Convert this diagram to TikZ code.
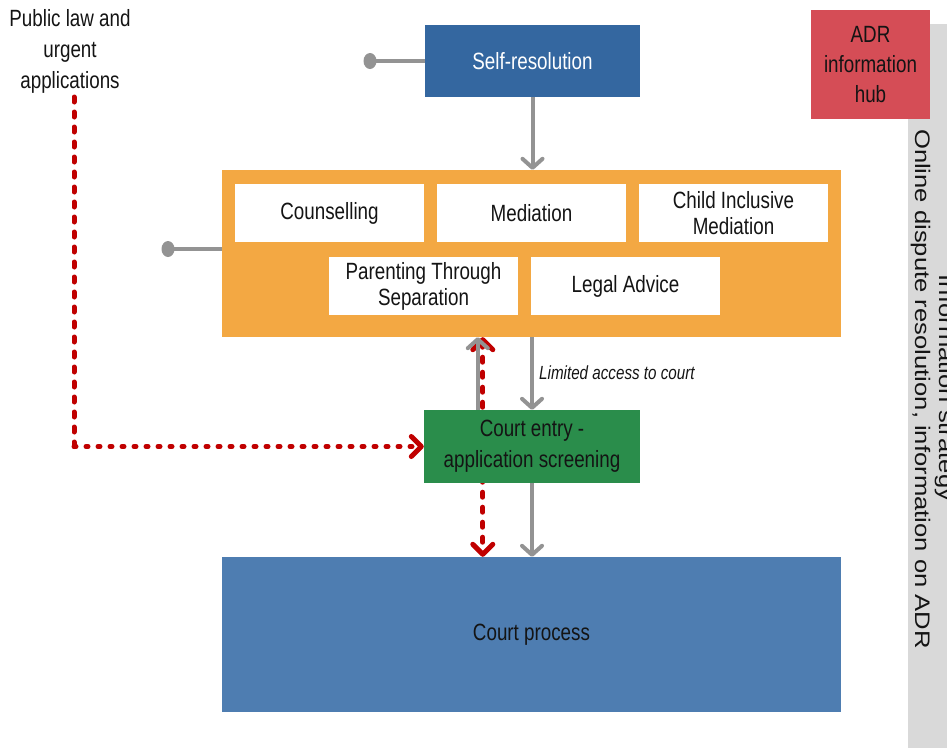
\documentclass[tikz,border=0pt]{standalone}
\usepackage{fontspec}
\setmainfont{Liberation Sans}[FakeStretch=0.8]
\newfontfamily\rotfont{Liberation Sans}[FakeStretch=1.22]
\usetikzlibrary{arrows.meta}
\pgfdeclarelayer{bg}
\pgfsetlayers{bg,main}
\definecolor{selfblue}{HTML}{3467A0}
\definecolor{courtblue}{HTML}{4E7DB1}
\definecolor{orangebox}{HTML}{F3A843}
\definecolor{greenbox}{HTML}{2A8D4B}
\definecolor{redbox}{HTML}{D54D56}
\definecolor{panelgray}{HTML}{D9D9D9}
\definecolor{arrowgray}{HTML}{939393}
\definecolor{dashred}{HTML}{C00000}
\definecolor{txt}{HTML}{141414}
\tikzset{
  rtip/.tip={Straight Barb[length=10pt,width=20pt,round]},
  gtip/.tip={Straight Barb[length=9pt,width=20pt,round]},
}
\begin{document}
\begin{tikzpicture}[x=1pt,y=-1pt,
  box/.style={inner sep=0pt, align=center, text=txt,
    font=\fontsize{23.5}{26}\selectfont},
  whitebox/.style={box, fill=white, minimum width=189pt, minimum height=58pt},
  garrow/.style={draw=arrowgray, line width=4pt, -gtip},
  gline/.style={draw=arrowgray, line width=4pt},
  rdashv/.style={draw=dashred, line width=5pt, line cap=round,
    dash pattern=on 5pt off 10pt},
  rdashh/.style={draw=dashred, line width=5pt, line cap=round,
    dash pattern=on 2pt off 10pt},
]
\useasboundingbox (0,0) rectangle (947,747);
\clip (0,0) rectangle (947,747);

% right side panel
\node[fill=panelgray, minimum width=60pt, minimum height=740pt, inner sep=0pt,
  anchor=north west] (panel) at (908,24) {};
\node[rotate=-90, anchor=base, text=txt, inner sep=0pt,
  font=\rotfont\fontsize{21}{23}\selectfont] (panelA) at (939,388) {Information strategy};
\node[rotate=-90, anchor=base, text=txt, inner sep=0pt,
  font=\rotfont\fontsize{21}{23}\selectfont] (panelB) at (915,389)
  {Online dispute resolution, information on ADR};

% ADR hub
\node[box, fill=redbox, minimum width=119pt, minimum height=109pt,
  font=\fontsize{23.5}{30}\selectfont] (adr) at (870.5,64.5) {ADR\\information\\hub};

% main boxes
\node[box, fill=selfblue, text=white, minimum width=215pt, minimum height=72pt]
  (self) at (532.5,61) {Self-resolution};
\node[fill=orangebox, minimum width=619pt, minimum height=167pt, inner sep=0pt]
  (orange) at (531.5,253.5) {};
\node[whitebox] (couns) at (329.5,213) {Counselling};
\node[whitebox] (med) at (531.5,213) {Mediation};
\node[whitebox] (child) at (733.5,213) {Child Inclusive\\Mediation};
\node[whitebox] (pts) at (423.5,286) {Parenting Through\\Separation};
\node[whitebox] (legal) at (625.5,286) {Legal Advice};
\node[box, fill=greenbox, minimum width=216pt, minimum height=73pt,
  font=\fontsize{23.5}{31}\selectfont] (green) at (532,446.5)
  {Court entry -\\application screening};
\node[box, fill=courtblue, minimum width=619pt, minimum height=155pt]
  (court) at (531.5,634.5) {Court process};

% public law text
\node[box, font=\fontsize{23.5}{31}\selectfont] (plt) at (70,51.5)
  {Public law and\\urgent\\applications};

% dots with lines
\coordinate (d1) at (370,61);
\coordinate (d2) at (168,249);
\draw[gline] (d1) -- (d1 -| self.west);
\fill[arrowgray] (d1) ellipse (6.5 and 8);
\draw[gline] (d2) -- (d2 -| orange.west);
\fill[arrowgray] (d2) ellipse (6.5 and 8);

% gray arrows
\coordinate (up1) at ([xshift=54pt]green.north west);
\coordinate (rd1) at ([xshift=59pt]green.north west);
\draw[garrow] (self.south) -- (self.south |- orange.north);
\draw[garrow] (up1) -- (up1 |- orange.south);
\draw[garrow] (green.north |- orange.south) -- (green.north);
\draw[garrow] (green.south) -- (green.south |- court.north);
\node[anchor=west, inner sep=0pt, text=txt,
  font=\fontsize{19}{21}\selectfont\itshape] (lim) at (539,373)
  {Limited access to court};

% red dashed connectors
\begin{pgfonlayer}{bg}
\draw[rdashv, rtip-rtip] (rd1 |- orange.south) -- (rd1 |- court.north);
\end{pgfonlayer}
\coordinate (pstart) at (74,97);
\coordinate (corner) at (74,446.5);
\draw[rdashv] (pstart) -- (corner);
\draw[rdashh, -rtip] (corner) -- (green.west);
\end{tikzpicture}
\end{document}
